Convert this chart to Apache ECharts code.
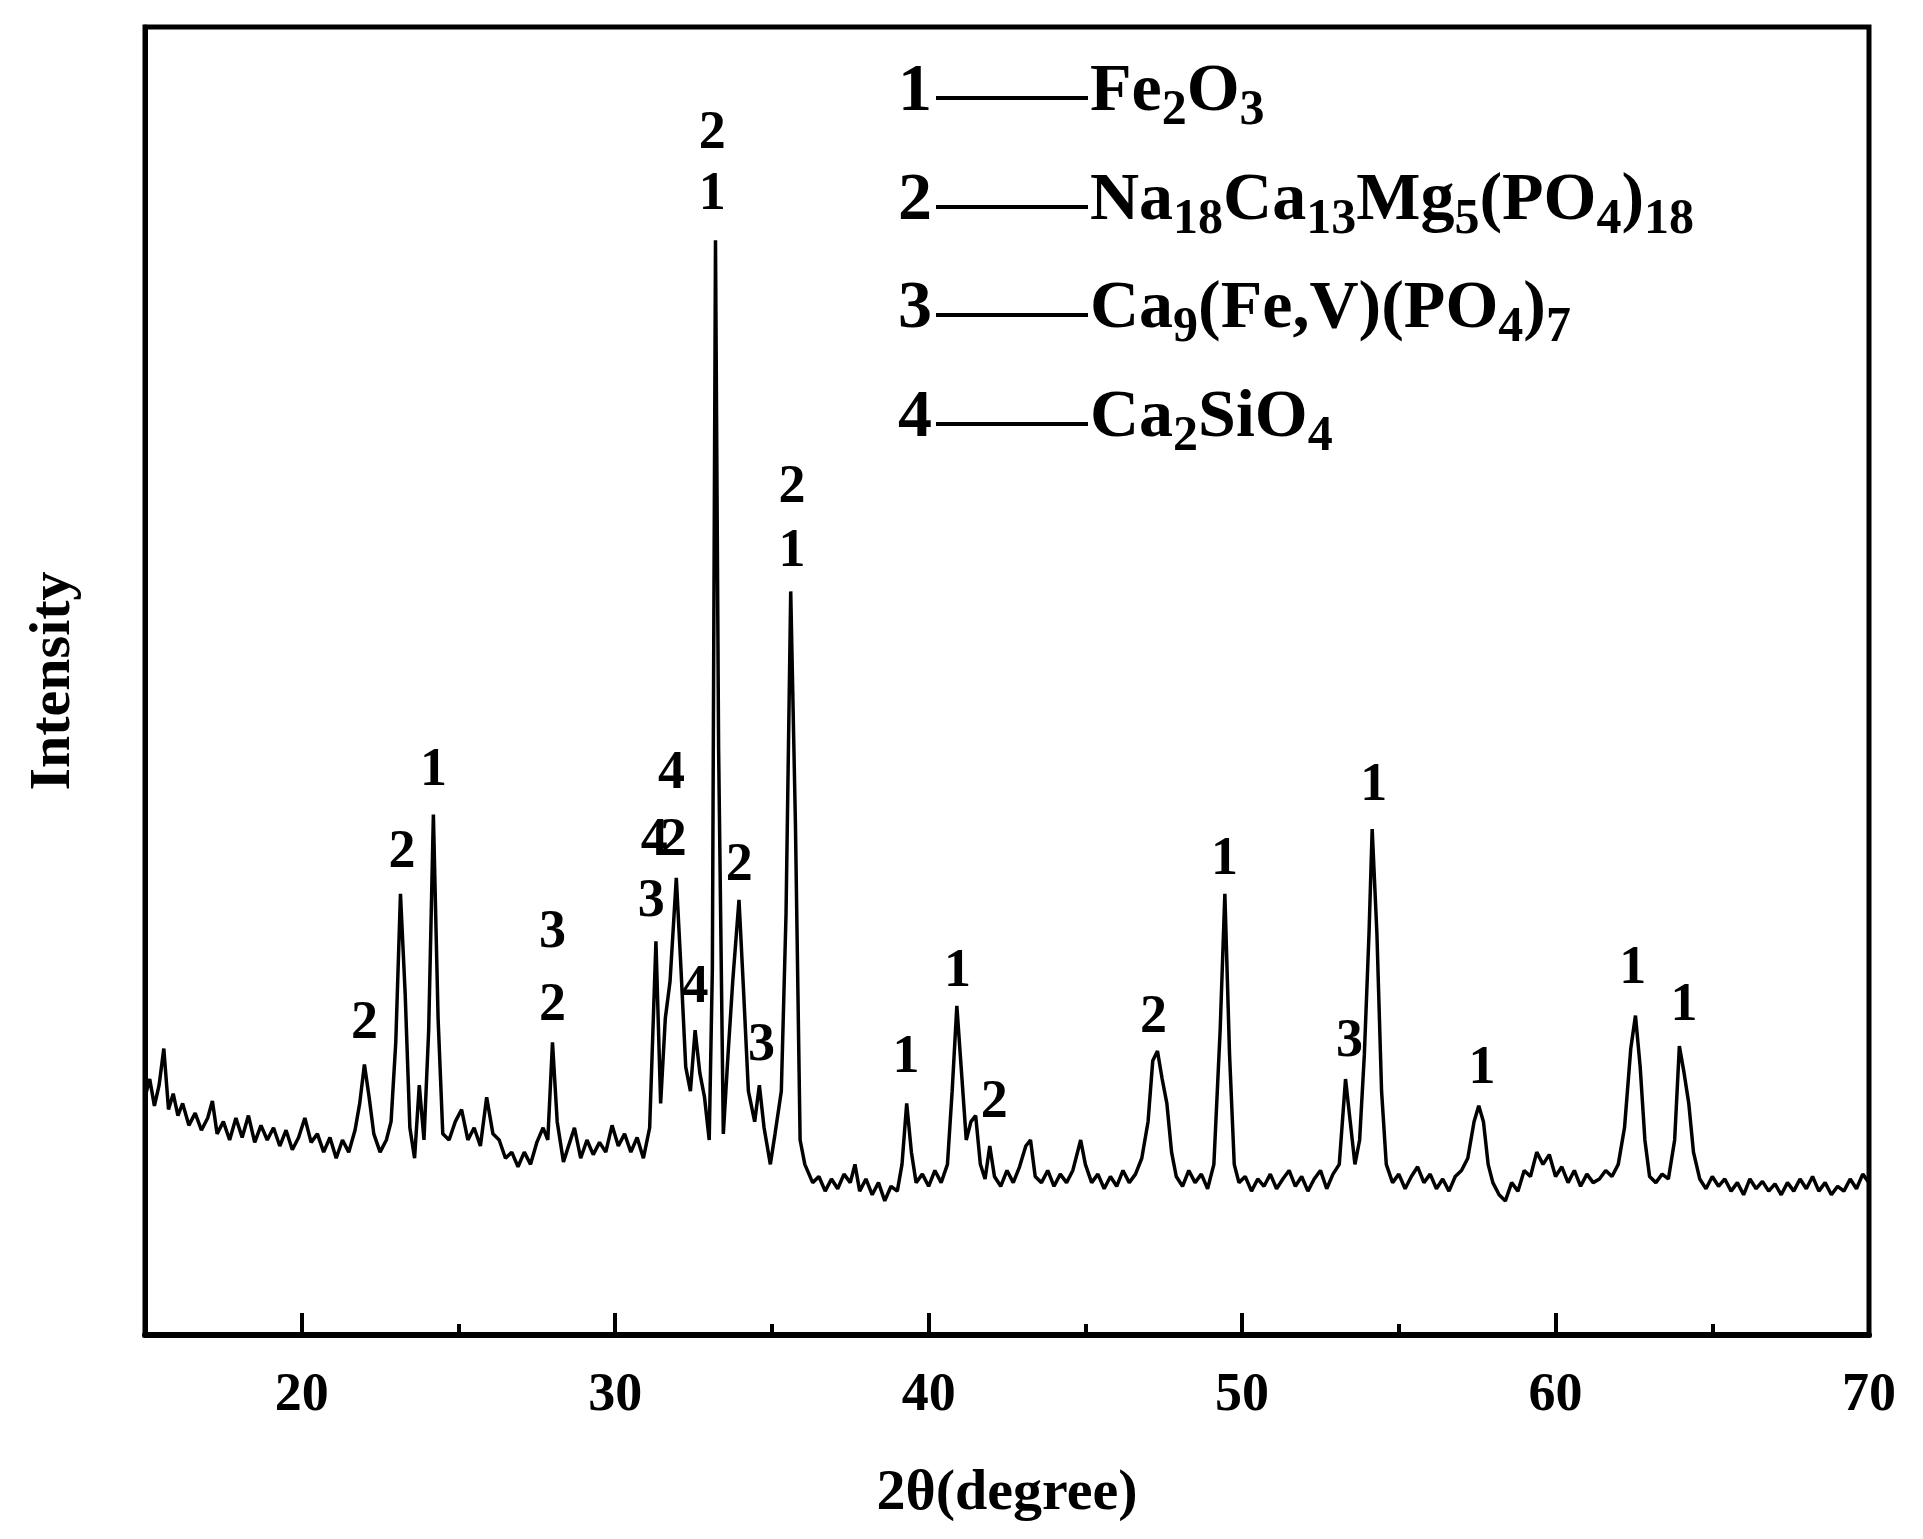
<!DOCTYPE html>
<html><head><meta charset="utf-8">
<script src="https://cdn.jsdelivr.net/npm/echarts@6/dist/echarts.min.js"></script>
<style>html,body{margin:0;padding:0;background:#fff}#c{width:1923px;height:1539px}</style>
</head><body><div id="c"></div>
<script>
// [2θ, intensity]
const pattern = [
[15,195],[15.15,210],[15.3,188],[15.45,205],[15.6,235],[15.75,185],[15.9,198],[16.05,180],[16.2,190],[16.4,172],[16.6,182],[16.8,168],[17.0,178],[17.15,192],[17.3,165],[17.5,175],[17.7,160],[17.9,178],[18.1,162],[18.3,180],[18.5,158],[18.7,172],[18.9,160],[19.1,170],[19.3,155],[19.5,168],[19.7,152],[19.9,162],[20.1,178],[20.3,158],[20.5,165],[20.7,150],[20.9,162],[21.1,145],[21.3,160],[21.5,150],[21.7,168],[21.85,190],[22.0,222],[22.15,195],[22.3,165],[22.5,150],[22.7,160],[22.85,175],[23.0,240],[23.15,362],[23.3,280],[23.45,170],[23.6,145],[23.75,205],[23.9,160],[24.05,250],[24.2,427],[24.35,260],[24.5,165],[24.7,160],[24.9,175],[25.1,185],[25.3,160],[25.5,170],[25.7,155],[25.9,195],[26.1,165],[26.3,160],[26.5,145],[26.7,150],[26.9,138],[27.1,150],[27.3,140],[27.5,158],[27.7,170],[27.85,160],[28.0,240],[28.15,175],[28.35,142],[28.55,158],[28.7,170],[28.9,145],[29.1,160],[29.3,148],[29.5,158],[29.7,150],[29.9,172],[30.1,155],[30.3,165],[30.5,150],[30.7,162],[30.9,145],[31.1,170],[31.3,323],[31.45,190],[31.6,260],[31.75,290],[31.95,375],[32.1,300],[32.25,220],[32.4,200],[32.55,250],[32.7,215],[32.85,195],[33.0,160],[33.1,300],[33.2,898],[33.3,480],[33.45,165],[33.6,230],[33.75,290],[33.95,357],[34.1,280],[34.25,200],[34.45,175],[34.6,205],[34.75,170],[34.95,140],[35.1,165],[35.3,200],[35.45,345],[35.6,610],[35.75,420],[35.9,160],[36.05,140],[36.3,125],[36.5,130],[36.7,118],[36.9,128],[37.1,120],[37.3,132],[37.5,125],[37.65,140],[37.8,118],[38.0,128],[38.2,115],[38.4,125],[38.6,110],[38.8,122],[39.0,118],[39.15,140],[39.3,190],[39.45,150],[39.6,125],[39.8,132],[40.0,122],[40.2,135],[40.4,125],[40.6,140],[40.75,200],[40.9,270],[41.05,215],[41.2,160],[41.35,175],[41.5,180],[41.65,140],[41.8,128],[41.95,155],[42.1,130],[42.3,122],[42.5,135],[42.7,125],[42.9,138],[43.1,155],[43.25,160],[43.4,130],[43.6,125],[43.8,135],[44.0,122],[44.2,132],[44.4,125],[44.6,135],[44.85,160],[45.0,140],[45.2,125],[45.4,132],[45.6,120],[45.8,130],[46.0,122],[46.2,135],[46.4,125],[46.6,132],[46.8,145],[47.0,175],[47.15,225],[47.3,233],[47.45,210],[47.6,190],[47.75,150],[47.9,130],[48.1,122],[48.3,135],[48.5,125],[48.7,132],[48.9,120],[49.1,140],[49.3,250],[49.45,362],[49.6,230],[49.75,140],[49.9,125],[50.1,130],[50.3,118],[50.5,128],[50.7,122],[50.9,132],[51.1,120],[51.3,128],[51.5,135],[51.7,122],[51.9,130],[52.1,118],[52.3,128],[52.5,135],[52.7,120],[52.9,132],[53.1,140],[53.3,210],[53.45,175],[53.6,140],[53.75,160],[53.9,230],[54.05,330],[54.15,415],[54.3,330],[54.45,200],[54.6,140],[54.8,125],[55.0,132],[55.2,120],[55.4,130],[55.6,138],[55.8,125],[56.0,132],[56.2,120],[56.4,128],[56.6,118],[56.8,130],[57.0,135],[57.2,145],[57.4,175],[57.55,188],[57.7,175],[57.85,140],[58.0,125],[58.2,115],[58.4,110],[58.6,125],[58.8,118],[59.0,135],[59.2,130],[59.4,150],[59.6,140],[59.8,148],[60.0,130],[60.2,138],[60.4,125],[60.6,135],[60.8,122],[61.0,132],[61.2,125],[61.4,128],[61.6,135],[61.8,130],[62.0,140],[62.2,170],[62.4,235],[62.55,262],[62.7,220],[62.85,160],[63.0,130],[63.2,125],[63.4,132],[63.6,128],[63.8,160],[63.95,237],[64.1,215],[64.25,190],[64.4,150],[64.6,128],[64.8,120],[65.0,130],[65.2,122],[65.4,128],[65.6,118],[65.8,125],[66.0,115],[66.2,128],[66.4,120],[66.6,126],[66.8,118],[67.0,124],[67.2,115],[67.4,125],[67.6,118],[67.8,128],[68.0,120],[68.2,130],[68.4,118],[68.6,125],[68.8,115],[69.0,122],[69.2,118],[69.4,128],[69.6,120],[69.8,132],[70,125]
];
const annotX = [22.0,23.2,24.2,28.0,28.0,31.15,31.25,31.85,31.8,32.55,33.96,34.67,33.1,33.1,35.64,35.64,39.28,40.92,42.09,47.17,49.44,53.43,54.2,57.65,62.46,64.1];
const annotY = [255,395,463,270,330,355,405,405,460,285,385,237,935,985,642,695,227,298,190,260,390,240,450,218,300,270];
const annotText = ['2','2','1','2','3','3','4','2','4','4','2','3','1','2','1','2','1','1','2','2','1','3','1','1','1','1'];
const legendNum = ['1','2','3','4'];
const legendFormula = ['Fe{s|2}O{s|3}','Na{s|18}Ca{s|13}Mg{s|5}(PO{s|4}){s|18}','Ca{s|9}(Fe,V)(PO{s|4}){s|7}','Ca{s|2}SiO{s|4}'];
const majorTicks = [20,30,40,50,60,70];
const minorTicks = [25,35,45,55,65];

const FONT = '"Liberation Serif", "DejaVu Serif", serif';
const chart = echarts.init(document.getElementById('c'));
const annData = annotX.map((x,i)=>[x,annotY[i]]);
const rowY = [98,207,315,424];
const graphic = [];
legendNum.forEach((n,i)=>{
  graphic.push({type:'text',left:898,top:rowY[i]-40,style:{text:n,font:'bold 68px '+FONT,fill:'#000'}});
  graphic.push({type:'line',shape:{x1:936,y1:rowY[i],x2:1088,y2:rowY[i]},style:{stroke:'#000',lineWidth:4}});
  graphic.push({type:'text',left:1090,top:rowY[i]-40,style:{text:legendFormula[i],font:'bold 68px '+FONT,fill:'#000',
    rich:{s:{fontSize:50,fontWeight:'bold',fontFamily:FONT,fill:'#000',padding:[38,0,0,0]}}}});
});
chart.setOption({
  animation:false,
  backgroundColor:'#fff',
  graphic,
  grid:{left:145,right:54,top:27,bottom:204,outerBoundsMode:'none',containLabel:false,show:true,borderColor:'#000',borderWidth:5,backgroundColor:'transparent'},
  xAxis:[{type:'value',min:15,max:70,
    name:'2θ(degree)',nameLocation:'middle',nameGap:130,
    nameTextStyle:{fontFamily:FONT,fontWeight:'bold',fontSize:58,color:'#000'},
    axisLine:{lineStyle:{color:'#000',width:6}},
    axisTick:{inside:true,length:22,lineStyle:{width:4,color:'#000'},customValues:majorTicks},
    axisLabel:{margin:34,fontFamily:FONT,fontWeight:'bold',fontSize:54,color:'#000',customValues:majorTicks},
    splitLine:{show:false}},
    {type:'value',min:15,max:70,position:'bottom',
    axisLine:{show:false},axisLabel:{show:false},splitLine:{show:false},
    axisTick:{inside:true,length:11,lineStyle:{width:4,color:'#000'},customValues:minorTicks}}],
  yAxis:{type:'value',min:0,max:1073,name:'Intensity',nameLocation:'middle',nameGap:62,
    nameTextStyle:{fontFamily:FONT,fontWeight:'bold',fontSize:58,color:'#000'},
    axisLine:{lineStyle:{color:'#000',width:5}},axisTick:{show:false},axisLabel:{show:false},splitLine:{show:false}},
  series:[
    {type:'line',data:pattern,symbol:'none',lineStyle:{color:'#000',width:3.5},z:3},
    {type:'scatter',data:annData,symbolSize:1,itemStyle:{opacity:0},
     label:{show:true,position:'inside',formatter:p=>annotText[p.dataIndex],fontFamily:FONT,fontWeight:'bold',fontSize:54,color:'#000',opacity:1},z:4}
  ]
});
</script></body></html>
